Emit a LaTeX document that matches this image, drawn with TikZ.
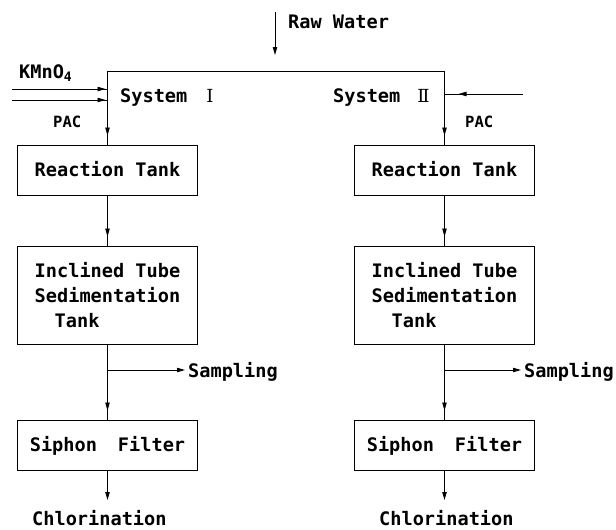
\documentclass[tikz,border=0pt]{standalone}
\usepackage{fontspec}
\setmainfont{DejaVu Sans Mono}
\newfontfamily\numf{DejaVu Serif}
\usetikzlibrary{arrows.meta,decorations.markings}
\begin{document}
\begin{tikzpicture}[x=1pt,y=-1pt,
  txt/.style={font=\bfseries\fontsize{18.6}{25}\selectfont, inner sep=0pt},
  small/.style={font=\bfseries\fontsize{15.5}{18}\selectfont, inner sep=0pt},
  num/.style={font=\numf\fontsize{18}{20}\selectfont, inner sep=0pt},
  box/.style={draw, line width=0.9pt, minimum width=180pt, txt},
  onebox/.style={box, minimum height=50pt, text height=13.4pt, text depth=0pt},
  ln/.style={line width=0.8pt},
  tipline/.style={ln, -{Triangle[length=8pt,width=4.4pt]}},
  flow/.style={ln, postaction={decorate}, decoration={markings, mark=at position -#1 with {\arrow{Triangle[length=8pt,width=4.4pt]}}}},
  flow/.default=9pt
]
\useasboundingbox (0,0) rectangle (616,530);

% boxes
\node[onebox] (r1) at (107.5,170) {Reaction Tank};
\node[box, minimum height=98pt, align=left] (i1) at (107.5,295) {Inclined Tube\\Sedimentation\\\hspace*{20pt}Tank};
\node[onebox] (s1) at (107.5,445) {Siphon\hspace*{21pt}Filter};
\node[onebox] (r2) at (444.5,170) {Reaction Tank};
\node[box, minimum height=98pt, align=left] (i2) at (444.5,295) {Inclined Tube\\Sedimentation\\\hspace*{20pt}Tank};
\node[onebox] (s2) at (444.5,445) {Siphon\hspace*{21pt}Filter};

% labels
\node[txt, anchor=base west] (raw) at (288,28) {Raw Water};
\node[txt, anchor=base west] (kmn) at (19,78) {KMnO\textsubscript{4}};
\node[txt, anchor=base west] (sys1) at (120,102) {System};
\node[num, anchor=base] (n1) at (210,102) {Ⅰ};
\node[txt, anchor=base west] (sys2) at (333,102) {System};
\node[num, anchor=base] (n2) at (423.5,102) {Ⅱ};
\node[small, anchor=base west] (pac1) at (53,127) {PAC};
\node[small, anchor=base west] (pac2) at (465,127) {PAC};
\node[txt, anchor=base west] (sam1) at (188,377) {Sampling};
\node[txt, anchor=base west] (sam2) at (524,377) {Sampling};
\node[txt, anchor=base west] (chl1) at (32,525) {Chlorination};
\node[txt, anchor=base west] (chl2) at (379,525) {Chlorination};

% coordinates
\coordinate (tl) at (107.5,71);
\coordinate (tr) at (444.5,71);
\coordinate (rwa) at (275,12);
\coordinate (rwb) at (275,55);
\coordinate (ka) at (12,89);
\coordinate (kb) at (107.5,89);
\coordinate (pa) at (12,100);
\coordinate (pb) at (107.5,100);
\coordinate (qa) at (523,94);
\coordinate (qb) at (444.5,94);
\coordinate (b1) at (107.5,370);
\coordinate (b2) at (444.5,370);
\coordinate (t1) at (185,370);
\coordinate (t2) at (521,370);
\coordinate (e1) at (107.5,500);
\coordinate (e2) at (444.5,500);

% connectors
\draw[tipline] (rwa) -- (rwb);
\draw[ln] (tl) -- (tr);
\draw[flow] (tl) -- (r1.north);
\draw[flow] (tr) -- (r2.north);
\draw[flow=2pt] (ka) -- (kb);
\draw[flow=2pt] (pa) -- (pb);
\draw[flow=14pt] (qa) -- (qb);
\draw[flow] (r1.south) -- (i1.north);
\draw[flow] (r2.south) -- (i2.north);
\draw[flow] (i1.south) -- (s1.north);
\draw[flow] (i2.south) -- (s2.north);
\draw[tipline] (b1) -- (t1);
\draw[tipline] (b2) -- (t2);
\draw[tipline] (s1.south) -- (e1);
\draw[tipline] (s2.south) -- (e2);
\end{tikzpicture}
\end{document}
